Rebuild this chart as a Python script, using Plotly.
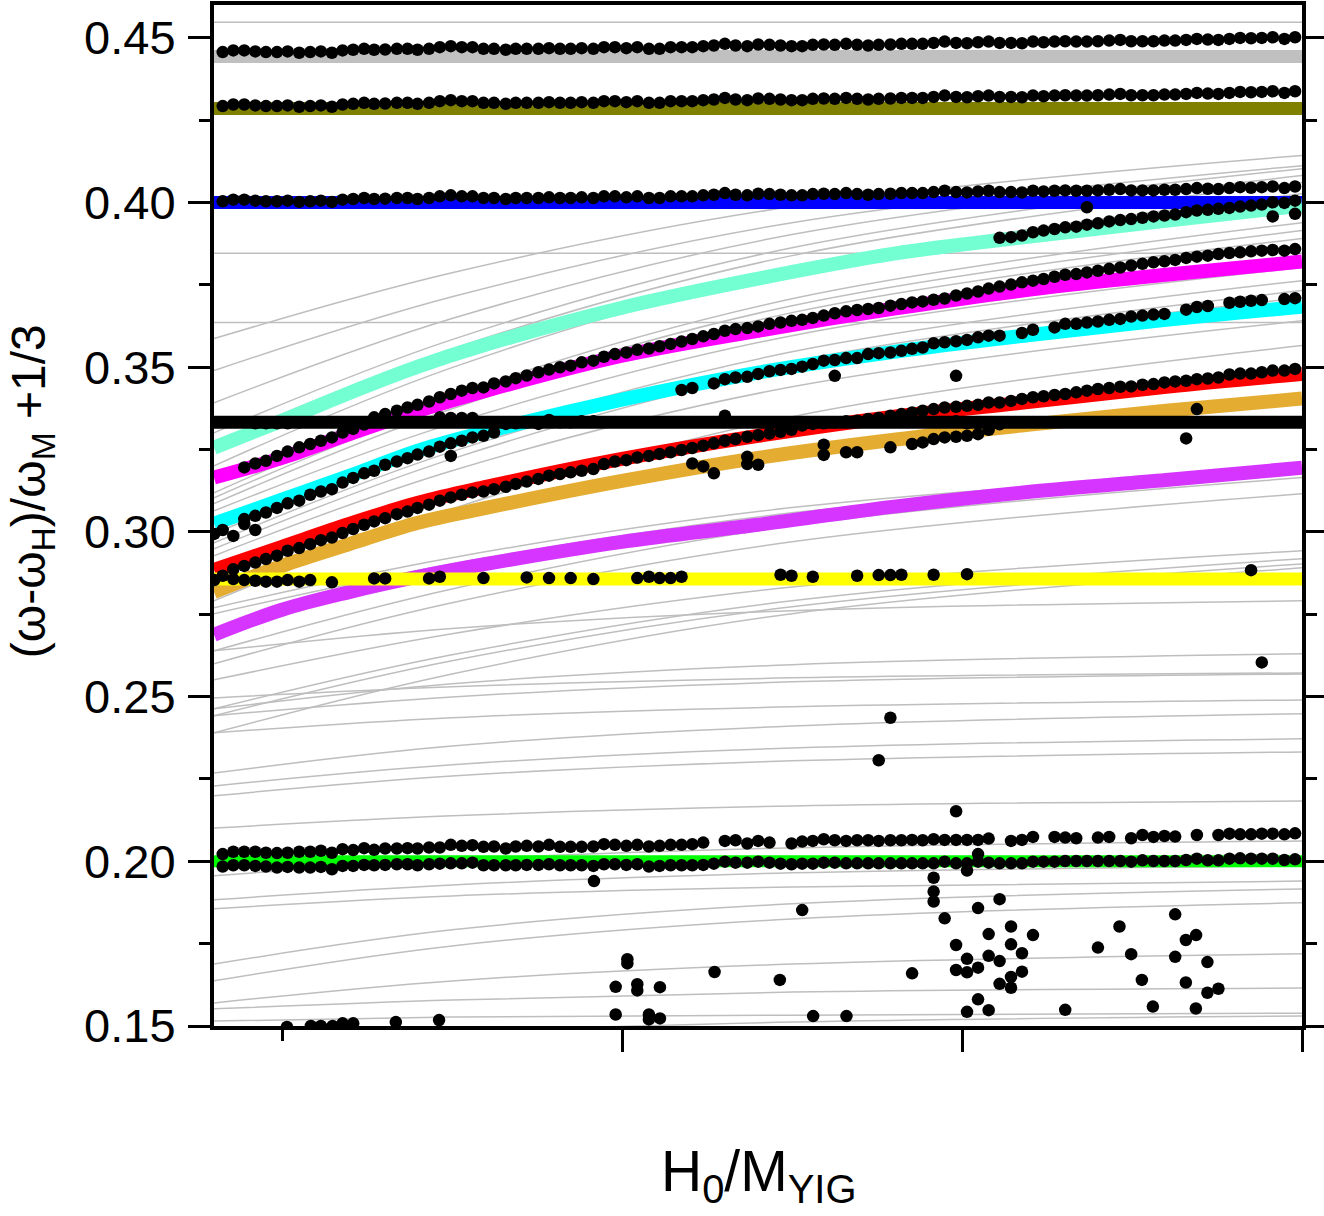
import plotly.graph_objects as go

# ---------------- axis extents / ticks ----------------
X_MIN, X_MAX = 0.4, 2.0
Y_MIN, Y_MAX = 0.15, 0.46
X_MAJOR = [1.0, 1.5, 2.0]
X_MINOR = [0.5]
Y_MAJOR = [0.15, 0.20, 0.25, 0.30, 0.35, 0.40, 0.45]
Y_LABELS = ["0.15", "0.20", "0.25", "0.30", "0.35", "0.40", "0.45"]
Y_MINOR = [0.175, 0.225, 0.275, 0.325, 0.375, 0.425]

# ---------------- constant (sphere) modes ----------------
FLAT_X = [X_MIN, X_MAX]
BAND_GRAY = 0.4444
BAND_OLIVE = 0.4286
BAND_BLUE = 0.4000
BAND_BLACK = 0.3333
BAND_YELLOW = 0.2857
BAND_GREEN = 0.2000
THIN_FLAT = [0.4548, 0.3846, 0.3636]

# ---------------- curved colored modes ----------------
CURVE_X = [0.4, 0.5, 0.6, 0.7, 0.8, 1.0, 1.2, 1.4, 1.6, 1.8, 2.0]
AQUA = [0.3256, 0.3338, 0.3423, 0.3502, 0.3569, 0.3681, 0.3769, 0.3845, 0.3897, 0.3945, 0.3991]
MAGENTA = [0.3165, 0.3225, 0.3298, 0.3368, 0.3429, 0.3535, 0.3611, 0.3678, 0.3736, 0.3781, 0.3821]
CYAN = [0.3025, 0.3098, 0.3171, 0.3247, 0.3304, 0.3402, 0.3484, 0.3547, 0.3598, 0.3644, 0.3684]
RED = [0.2885, 0.2955, 0.3025, 0.3089, 0.3137, 0.3222, 0.3292, 0.3350, 0.3395, 0.3441, 0.3480]
ORANGE = [0.2818, 0.2897, 0.2964, 0.3028, 0.3073, 0.3155, 0.3225, 0.3280, 0.3326, 0.3368, 0.3405]
PURPLE = [0.2688, 0.2764, 0.2818, 0.2864, 0.2903, 0.2970, 0.3022, 0.3077, 0.3122, 0.3158, 0.3195]

# ---------------- thin gray calculated modes ----------------
GRAY_X = [0.4, 0.75, 1.25, 2.0]
GRAY_CURVES = [
    [0.3587, 0.3787, 0.3988, 0.4143],
    [0.3490, 0.3714, 0.3939, 0.4112],
    [0.3392, 0.3648, 0.3903, 0.4103],
    [0.3301, 0.3584, 0.3863, 0.4082],
    [0.3271, 0.3556, 0.3839, 0.4061],
    [0.3201, 0.3499, 0.3796, 0.4027],
    [0.3119, 0.3414, 0.3708, 0.3939],
    [0.3104, 0.3395, 0.3687, 0.3915],
    [0.3086, 0.3374, 0.3666, 0.3891],
    [0.3064, 0.3329, 0.3596, 0.3803],
    [0.2995, 0.3271, 0.3547, 0.3763],
    [0.2967, 0.3244, 0.3517, 0.3733],
    [0.2949, 0.3222, 0.3499, 0.3711],
    [0.2928, 0.3186, 0.3441, 0.3641],
    [0.2791, 0.3070, 0.3350, 0.3566],
    [0.2770, 0.2922, 0.3074, 0.3192],
    [0.2752, 0.2903, 0.3058, 0.3177],
    [0.2639, 0.2827, 0.3019, 0.3165],
    [0.2600, 0.2785, 0.2970, 0.3116],
    [0.2551, 0.2691, 0.2833, 0.2943],
    [0.2463, 0.2627, 0.2791, 0.2919],
    [0.2442, 0.2609, 0.2773, 0.2903],
    [0.2390, 0.2569, 0.2752, 0.2891],
    [0.2639, 0.2707, 0.2761, 0.2791],
    [0.2463, 0.2539, 0.2597, 0.2630],
    [0.2496, 0.2530, 0.2557, 0.2572],
    [0.2442, 0.2499, 0.2545, 0.2569],
    [0.2390, 0.2436, 0.2469, 0.2490],
    [0.2268, 0.2350, 0.2411, 0.2448],
    [0.2229, 0.2293, 0.2344, 0.2372],
    [0.2199, 0.2259, 0.2305, 0.2332],
    [0.2101, 0.2138, 0.2168, 0.2183],
    [0.1956, 0.2004, 0.2041, 0.2062],
    [0.1883, 0.1928, 0.1965, 0.1986],
    [0.1856, 0.1895, 0.1922, 0.1940],
    [0.1688, 0.1792, 0.1871, 0.1916],
    [0.1637, 0.1743, 0.1825, 0.1874],
    [0.1570, 0.1637, 0.1688, 0.1719],
    [0.1552, 0.1579, 0.1603, 0.1615],
    [0.1515, 0.1527, 0.1533, 0.1539],
    [0.1439, 0.1480, 0.1512, 0.1530],
]

# ---------------- measured points (field scan) ----------------
X_SCAN = [
    0.4128, 0.4284, 0.4445, 0.4607, 0.4764, 0.4926, 0.5083, 0.5253, 0.5415, 0.5572,
    0.5734, 0.5891, 0.6047, 0.6208, 0.6355, 0.6517, 0.6689, 0.6846, 0.6993, 0.7163,
    0.7321, 0.7482, 0.7644, 0.7801, 0.7963, 0.8118, 0.8290, 0.8437, 0.8599, 0.8771,
    0.8927, 0.9088, 0.9245, 0.9407, 0.9579,
    0.9735, 0.9896, 1.0064, 1.0225, 1.0396, 1.0553, 1.0715, 1.0876, 1.1034, 1.1195,
    1.1351, 1.1513, 1.1670, 1.1842, 1.2003, 1.2169, 1.2331, 1.2493, 1.2650, 1.2806,
    1.2967, 1.3129, 1.3296, 1.3458, 1.3620, 1.3775, 1.3947, 1.4109, 1.4266, 1.4422,
    1.4583, 1.4745, 1.4913, 1.5074, 1.5236, 1.5392,
    1.5553, 1.5721, 1.5882, 1.6044, 1.6200, 1.6361, 1.6518, 1.6680, 1.6837, 1.6999,
    1.7165, 1.7327, 1.7488, 1.7654, 1.7816, 1.7977, 1.8135, 1.8296, 1.8454, 1.8615,
    1.8771, 1.8933, 1.9090, 1.9251, 1.9409, 1.9570, 1.9741, 1.9898,
]

ROW_TOP = [
    0.4457, 0.4462, 0.4462, 0.4459, 0.4457, 0.4457, 0.4459, 0.4455, 0.4457, 0.4459,
    0.4455, 0.4462, 0.4464, 0.4467, 0.4464, 0.4465, 0.4467, 0.4467, 0.4464, 0.4467,
    0.4472, 0.4475, 0.4472, 0.4472, 0.4467, 0.4467, 0.4464, 0.4467, 0.4467, 0.4467,
    0.4469, 0.4467, 0.4467, 0.4469, 0.4467,
    0.4472, 0.4472, 0.4469, 0.4472, 0.4467, 0.4467, 0.4472, 0.4472, 0.4472, 0.4475,
    0.4477, 0.4482, 0.4477, 0.4475, 0.4480, 0.4479, 0.4477, 0.4475, 0.4475, 0.4479,
    0.4480, 0.4479, 0.4482, 0.4479, 0.4477, 0.4479, 0.4480, 0.4482, 0.4482, 0.4482,
    0.4485, 0.4489, 0.4485, 0.4484, 0.4487, 0.4489,
    0.4485, 0.4485, 0.4484, 0.4489, 0.4487, 0.4489, 0.4490, 0.4489, 0.4489, 0.4490,
    0.4492, 0.4494, 0.4490, 0.4490, 0.4490, 0.4492, 0.4492, 0.4494, 0.4497, 0.4495,
    0.4494, 0.4497, 0.4500, 0.4499, 0.4500, 0.4502, 0.4497, 0.4502,
]
ROW_SECOND = [
    0.4293, 0.4298, 0.4298, 0.4295, 0.4293, 0.4293, 0.4295, 0.4291, 0.4293, 0.4295,
    0.4291, 0.4298, 0.4300, 0.4303, 0.4300, 0.4301, 0.4303, 0.4303, 0.4300, 0.4303,
    0.4308, 0.4311, 0.4308, 0.4308, 0.4303, 0.4303, 0.4300, 0.4303, 0.4303, 0.4303,
    0.4305, 0.4303, 0.4303, 0.4305, 0.4303,
    0.4308, 0.4308, 0.4305, 0.4308, 0.4303, 0.4303, 0.4308, 0.4308, 0.4308, 0.4311,
    0.4313, 0.4318, 0.4313, 0.4311, 0.4316, 0.4315, 0.4313, 0.4311, 0.4311, 0.4315,
    0.4316, 0.4315, 0.4318, 0.4315, 0.4313, 0.4315, 0.4316, 0.4318, 0.4318, 0.4318,
    0.4321, 0.4325, 0.4321, 0.4320, 0.4323, 0.4325,
    0.4321, 0.4321, 0.4320, 0.4325, 0.4323, 0.4325, 0.4326, 0.4325, 0.4325, 0.4326,
    0.4328, 0.4330, 0.4326, 0.4326, 0.4326, 0.4328, 0.4328, 0.4330, 0.4333, 0.4331,
    0.4330, 0.4333, 0.4336, 0.4335, 0.4336, 0.4338, 0.4333, 0.4338,
]
ROW_THIRD = [
    0.4004, 0.4009, 0.4009, 0.4006, 0.4004, 0.4004, 0.4006, 0.4002, 0.4004, 0.4006,
    0.4002, 0.4009, 0.4011, 0.4014, 0.4011, 0.4012, 0.4014, 0.4014, 0.4011, 0.4014,
    0.4019, 0.4022, 0.4019, 0.4019, 0.4014, 0.4014, 0.4011, 0.4014, 0.4014, 0.4014,
    0.4016, 0.4014, 0.4014, 0.4016, 0.4014,
    0.4019, 0.4019, 0.4016, 0.4019, 0.4014, 0.4014, 0.4019, 0.4019, 0.4019, 0.4022,
    0.4024, 0.4029, 0.4024, 0.4022, 0.4027, 0.4026, 0.4024, 0.4022, 0.4022, 0.4026,
    0.4027, 0.4026, 0.4029, 0.4026, 0.4024, 0.4026, 0.4027, 0.4029, 0.4029, 0.4029,
    0.4032, 0.4036, 0.4032, 0.4031, 0.4034, 0.4036,
    0.4032, 0.4032, 0.4031, 0.4036, 0.4034, 0.4036, 0.4037, 0.4036, 0.4036, 0.4037,
    0.4039, 0.4041, 0.4037, 0.4037, 0.4037, 0.4039, 0.4039, 0.4041, 0.4044, 0.4042,
    0.4041, 0.4044, 0.4047, 0.4045, 0.4047, 0.4049, 0.4044, 0.4049,
]
ROW_GREEN_LOW = [
    0.1984, 0.1988, 0.1988, 0.1986, 0.1984, 0.1981, 0.1983, 0.1981, 0.1981, 0.1983,
    0.1976, 0.1986, 0.1986, 0.1989, 0.1988, 0.1989, 0.1991, 0.1991, 0.1988, 0.1991,
    0.1993, 0.1994, 0.1994, 0.1996, 0.1988, 0.1988, 0.1988, 0.1988, 0.1989, 0.1989,
    0.1991, 0.1988, 0.1988, 0.1988, 0.1986,
    0.1991, 0.1991, 0.1989, 0.1991, 0.1984, 0.1986, 0.1988, 0.1988, 0.1988, 0.1989,
    0.1993, 0.1999, 0.1996, 0.1996, 0.1999, 0.1996, 0.1993, 0.1991, 0.1993, 0.1993,
    0.1996, 0.1996, 0.1994, 0.1994, 0.1994, 0.1994, 0.1994, 0.1994, 0.1994, 0.1994,
    0.1994, 0.1999, 0.1994, 0.1994, 0.1999, 0.1996,
    0.1994, 0.1994, 0.1994, 0.1999, 0.1999, 0.1999, 0.2001, 0.2001, 0.2001, 0.2001,
    0.2001, 0.2001, 0.1999, 0.2003, 0.2001, 0.2001, 0.2001, 0.2004, 0.2008, 0.2003,
    0.2003, 0.2008, 0.2009, 0.2008, 0.2008, 0.2008, 0.2004, 0.2006,
]
GREEN_UP_X = [
    0.4128, 0.4284, 0.4445, 0.4607, 0.4764, 0.4926, 0.5083, 0.5253, 0.5415, 0.5572,
    0.5734, 0.5891, 0.6047, 0.6208, 0.6355, 0.6517, 0.6689, 0.6846, 0.6993, 0.7163,
    0.7321, 0.7482, 0.7644, 0.7801, 0.7963, 0.8118, 0.8290, 0.8437, 0.8599, 0.8771,
    0.8927, 0.9088, 0.9245, 0.9407, 0.9579,
    0.9735, 0.9896, 1.0064, 1.0225, 1.0396, 1.0553, 1.0715, 1.0876, 1.1034, 1.1195,
    1.1513, 1.1670, 1.1842, 1.2003, 1.2169,
    1.2493, 1.2650, 1.2806, 1.2967, 1.3129, 1.3296, 1.3458, 1.3620, 1.3775, 1.3947,
    1.4109, 1.4266, 1.4422, 1.4583, 1.4745, 1.4913, 1.5074, 1.5236, 1.5392,
    1.5721, 1.5882, 1.6044, 1.6361, 1.6518, 1.6680, 1.6999, 1.7165, 1.7488, 1.7654,
    1.7816, 1.7977, 1.8135, 1.8454, 1.8771, 1.8933, 1.9090, 1.9251, 1.9409, 1.9570,
    1.9741, 1.9898,
]
GREEN_UP_Y = [
    0.2022, 0.2029, 0.2029, 0.2029, 0.2026, 0.2025, 0.2026, 0.2029, 0.2029, 0.2032,
    0.2026, 0.2037, 0.2034, 0.2040, 0.2035, 0.2039, 0.2039, 0.2040, 0.2039, 0.2042,
    0.2042, 0.2050, 0.2047, 0.2049, 0.2044, 0.2045, 0.2039, 0.2045, 0.2047, 0.2045,
    0.2050, 0.2044, 0.2044, 0.2044, 0.2045,
    0.2052, 0.2050, 0.2047, 0.2050, 0.2045, 0.2047, 0.2050, 0.2050, 0.2052, 0.2057,
    0.2062, 0.2064, 0.2054, 0.2062, 0.2057,
    0.2054, 0.2060, 0.2062, 0.2067, 0.2064, 0.2062, 0.2064, 0.2064, 0.2062, 0.2064,
    0.2064, 0.2065, 0.2064, 0.2067, 0.2065, 0.2065, 0.2065, 0.2065, 0.2069,
    0.2062, 0.2065, 0.2074, 0.2074, 0.2072, 0.2070, 0.2072, 0.2074, 0.2070, 0.2080,
    0.2074, 0.2077, 0.2075, 0.2080, 0.2080, 0.2084, 0.2082, 0.2082, 0.2084, 0.2084,
    0.2082, 0.2085,
]
AQUA_DOTS = [
    0.3893, 0.3895, 0.3900, 0.3910, 0.3915, 0.3920, 0.3925, 0.3927, 0.3933, 0.3937,
    0.3943, 0.3947, 0.3950, 0.3954, 0.3958, 0.3961, 0.3964, 0.3971, 0.3976, 0.3978,
    0.3981, 0.3984, 0.3988, 0.3991, 0.3994, 0.4001, 0.3999, 0.4006,
]
MAGENTA_DOTS = [
    0.3196, 0.3208, 0.3216, 0.3231, 0.3244, 0.3257, 0.3267, 0.3277, 0.3287, 0.3302,
    0.3313, 0.3326, 0.3348, 0.3358, 0.3368, 0.3378, 0.3386, 0.3396, 0.3409, 0.3419,
    0.3429, 0.3437, 0.3439, 0.3451, 0.3457, 0.3467, 0.3475, 0.3485, 0.3493, 0.3500,
    0.3505, 0.3515, 0.3520,
    0.3532, 0.3540, 0.3545, 0.3553, 0.3557, 0.3564, 0.3571, 0.3578, 0.3586, 0.3594,
    0.3601, 0.3611, 0.3616, 0.3619, 0.3624, 0.3632, 0.3636, 0.3641, 0.3644, 0.3650,
    0.3657, 0.3664, 0.3670, 0.3674, 0.3677, 0.3680, 0.3687, 0.3692, 0.3697, 0.3700,
    0.3705, 0.3709, 0.3718, 0.3724, 0.3730, 0.3739,
    0.3745, 0.3751, 0.3758, 0.3763, 0.3768, 0.3775, 0.3781, 0.3783, 0.3788, 0.3793,
    0.3799, 0.3803, 0.3809, 0.3814, 0.3819, 0.3822, 0.3826, 0.3832, 0.3836, 0.3839,
    0.3844, 0.3847, 0.3849, 0.3852, 0.3854, 0.3856, 0.3854, 0.3859,
]
RED_DOTS = [
    0.2887, 0.2897, 0.2907, 0.2918, 0.2928, 0.2943, 0.2951, 0.2963, 0.2975, 0.2983,
    0.2997, 0.3009, 0.3022, 0.3032, 0.3042, 0.3054, 0.3062, 0.3073, 0.3083, 0.3095,
    0.3105, 0.3113, 0.3120, 0.3123, 0.3130, 0.3137, 0.3146, 0.3153, 0.3161, 0.3171,
    0.3176, 0.3181, 0.3186, 0.3191,
    0.3206, 0.3214, 0.3218, 0.3226, 0.3231, 0.3237, 0.3242, 0.3249, 0.3255, 0.3262,
    0.3269, 0.3277, 0.3282, 0.3289, 0.3294, 0.3299, 0.3304, 0.3310, 0.3323, 0.3328,
    0.3330, 0.3333, 0.3336, 0.3338, 0.3343, 0.3346, 0.3353, 0.3358, 0.3363, 0.3368,
    0.3373, 0.3378, 0.3380, 0.3383, 0.3386, 0.3393,
    0.3393, 0.3398, 0.3404, 0.3409, 0.3412, 0.3416, 0.3419, 0.3424, 0.3429, 0.3434,
    0.3437, 0.3441, 0.3442, 0.3447, 0.3449, 0.3454, 0.3457, 0.3459, 0.3464, 0.3466,
    0.3469, 0.3478, 0.3481, 0.3481, 0.3485, 0.3490, 0.3490, 0.3495,
]
CYAN_DOT_X = [
    0.4004, 0.4128, 0.4284, 0.4445, 0.4445, 0.4607, 0.4607,
    0.4764, 0.4926, 0.5083, 0.5253, 0.5415, 0.5572, 0.5734, 0.5891, 0.6047, 0.6208,
    0.6355, 0.6517, 0.6689, 0.6846, 0.6993, 0.7163, 0.7321, 0.7482, 0.7644, 0.7801,
    0.7963, 0.8118, 0.7482,
    1.0876, 1.1034, 1.1351, 1.1513, 1.1670, 1.1842, 1.2003, 1.2169, 1.2331, 1.2493,
    1.2650, 1.2806, 1.2967, 1.3129, 1.3296, 1.3458, 1.3620, 1.3775, 1.3947, 1.4109,
    1.4266, 1.4422, 1.4583, 1.4745, 1.4913, 1.5074, 1.5236, 1.5392,
    1.5553, 1.5882, 1.6044, 1.6361, 1.6518, 1.6680, 1.6837, 1.6999, 1.7165, 1.7327,
    1.7488, 1.7654, 1.7816, 1.7977, 1.8296, 1.8454, 1.8615, 1.8933, 1.9090, 1.9251,
    1.9409, 1.9741, 1.9898,
    1.3129, 1.4913, 1.8454, 1.8296,
]
CYAN_DOT_Y = [
    0.2994, 0.3006, 0.2988, 0.3039, 0.3024, 0.3049, 0.3006,
    0.3059, 0.3073, 0.3087, 0.3095, 0.3113, 0.3123, 0.3130, 0.3150, 0.3164, 0.3178,
    0.3186, 0.3204, 0.3214, 0.3224, 0.3235, 0.3244, 0.3259, 0.3269, 0.3277, 0.3287,
    0.3292, 0.3302, 0.3231,
    0.3431, 0.3437, 0.3451, 0.3464, 0.3469, 0.3471, 0.3480, 0.3488, 0.3492, 0.3495,
    0.3502, 0.3510, 0.3520, 0.3522, 0.3528, 0.3528, 0.3540, 0.3543, 0.3545, 0.3550,
    0.3556, 0.3560, 0.3573, 0.3576, 0.3579, 0.3583, 0.3591, 0.3596,
    0.3596, 0.3604, 0.3614, 0.3621, 0.3632, 0.3632, 0.3636, 0.3639, 0.3644, 0.3647,
    0.3654, 0.3657, 0.3660, 0.3662, 0.3675, 0.3683, 0.3686, 0.3696, 0.3699, 0.3702,
    0.3704, 0.3707, 0.3710,
    0.3474, 0.3474, 0.3373, 0.3284,
]
AQUA_EXTRA_X = [1.6837, 1.9570, 1.9898]
AQUA_EXTRA_Y = [0.3986, 0.3958, 0.3966]
ORANGE_DOT_X = [1.1034, 1.1195, 1.1351, 1.1842, 1.1842, 1.2003, 1.2967, 1.2967, 1.3296,
                1.3458, 1.3947, 1.4266, 1.4422, 1.4583, 1.4745, 1.4913, 1.5074, 1.5236, 1.5392]
ORANGE_DOT_Y = [0.3208, 0.3199, 0.3178, 0.3228, 0.3206, 0.3204, 0.3265, 0.3234, 0.3242,
                0.3242, 0.3257, 0.3267, 0.3272, 0.3282, 0.3287, 0.3289, 0.3292, 0.3297, 0.3310]
YELLOW_DOT_X = [0.4004, 0.4128, 0.4284, 0.4445, 0.4607, 0.4764, 0.4926, 0.5083, 0.5253, 0.5415,
                0.5734, 0.6355, 0.6517, 0.7163, 0.7321, 0.7963, 0.8599, 0.8927, 0.9245, 0.9579,
                1.0225, 1.0396, 1.0553, 1.0715, 1.0876, 1.2331, 1.2493, 1.2806, 1.3458, 1.3775,
                1.3947, 1.4109, 1.4583, 1.5074, 1.9251]
YELLOW_DOT_Y = [0.2854, 0.2867, 0.2857, 0.2854, 0.2852, 0.2849, 0.2849, 0.2854, 0.2849, 0.2854,
                0.2847, 0.2859, 0.2859, 0.2859, 0.2864, 0.2860, 0.2862, 0.2860, 0.2860, 0.2857,
                0.2860, 0.2864, 0.2860, 0.2860, 0.2864, 0.2870, 0.2867, 0.2864, 0.2867, 0.2869,
                0.2869, 0.2870, 0.2870, 0.2872, 0.2884]
BLACK_DOT_X = [0.4607, 0.4764, 0.4926, 0.5083, 0.5253, 0.7321, 0.7482, 0.7644, 0.7801,
               0.8290, 0.8437, 0.8599, 0.8771, 0.8927, 0.9088, 0.9245, 0.9407, 0.9579,
               1.1513, 1.4913, 1.5074, 1.5236, 1.5392, 1.5553]
BLACK_DOT_Y = [0.3330, 0.3330, 0.3330, 0.3330, 0.3333, 0.3348, 0.3346, 0.3346, 0.3346,
               0.3328, 0.3330, 0.3333, 0.3328, 0.3340, 0.3333, 0.3333, 0.3336, 0.3336,
               0.3353, 0.3336, 0.3330, 0.3330, 0.3330, 0.3327]
SCATTER_X = [
    0.9588, 1.2650, 1.0079, 1.0079, 0.9907, 1.0225, 1.0225, 1.0558, 0.9907, 1.0396,
    1.0396, 1.0558, 1.1361, 1.2321, 1.2811, 1.3301, 1.3775, 1.3947, 1.4266, 1.4583,
    1.4583, 1.4583, 1.4745, 1.4913, 1.4913, 1.5074, 1.4913, 1.5074, 1.5236, 1.5236,
    1.5392, 1.5392, 1.5236, 1.5074, 1.5392, 1.5074, 1.5236, 1.5553, 1.5721, 1.6044,
    1.5553, 1.5721, 1.5882, 1.5721, 1.5882, 1.5553, 1.5721, 1.6518, 1.6999, 1.7316,
    1.7488, 1.7645, 1.7807, 1.8135, 1.8292, 1.8443, 1.8135, 1.8292, 1.8609, 1.8439,
    1.8609, 1.8771, 1.9409, 0.5073, 0.5425, 0.5572, 0.5744, 0.5891, 0.6047, 0.6674,
    0.7310,
]
SCATTER_Y = [
    0.1940, 0.1852, 0.1703, 0.1690, 0.1619, 0.1627, 0.1608, 0.1618, 0.1535, 0.1535,
    0.1520, 0.1523, 0.1664, 0.1640, 0.1530, 0.1530, 0.2307, 0.2436, 0.1660, 0.1950,
    0.1908, 0.1878, 0.1827, 0.2152, 0.1746, 0.1704, 0.1670, 0.1663, 0.1677, 0.1858,
    0.1779, 0.1713, 0.1581, 0.1543, 0.1548, 0.1972, 0.2022, 0.1885, 0.1802, 0.1776,
    0.1697, 0.1748, 0.1721, 0.1649, 0.1665, 0.1628, 0.1616, 0.1549, 0.1738, 0.1802,
    0.1718, 0.1640, 0.1559, 0.1839, 0.1761, 0.1776, 0.1710, 0.1632, 0.1694, 0.1553,
    0.1601, 0.1613, 0.2604, 0.1497, 0.1500, 0.1500, 0.1500, 0.1508, 0.1508, 0.1512,
    0.1518,
]

FONT = "Liberation Sans, Arial, sans-serif"
DOT = dict(color="black", size=12.5, line=dict(width=0))
THIN_GRAY = "#BEBEBE"

fig = go.Figure()


def add_line(x, y, color, width, spline=False):
    fig.add_trace(go.Scatter(
        x=x, y=y, mode="lines", hoverinfo="skip", showlegend=False,
        line=dict(color=color, width=width, shape="spline" if spline else "linear"),
    ))


def add_dots(x, y):
    fig.add_trace(go.Scatter(x=x, y=y, mode="markers", marker=DOT,
                             hoverinfo="skip", showlegend=False))


# thin gray calculated curves
for ys in GRAY_CURVES:
    add_line(GRAY_X, ys, THIN_GRAY, 1.5, spline=True)
for v in THIN_FLAT:
    add_line(FLAT_X, [v, v], THIN_GRAY, 1.5)

# thick colored modes
add_line(FLAT_X, [BAND_GRAY, BAND_GRAY], "#C0C0C0", 13)
add_line(FLAT_X, [BAND_OLIVE, BAND_OLIVE], "#808000", 13)
add_line(FLAT_X, [BAND_BLUE, BAND_BLUE], "#0000FF", 13)
add_line(CURVE_X, AQUA, "#74FFD2", 14, spline=True)
add_line(CURVE_X, MAGENTA, "#FF00FF", 14, spline=True)
add_line(CURVE_X, CYAN, "#00FFFF", 14, spline=True)
add_line(CURVE_X, RED, "#FF0000", 14, spline=True)
add_line(CURVE_X, ORANGE, "#E4AC30", 14, spline=True)
add_line(CURVE_X, PURPLE, "#D535FF", 14, spline=True)
add_line(FLAT_X, [BAND_YELLOW, BAND_YELLOW], "#FFFF00", 13)
add_line(FLAT_X, [BAND_GREEN, BAND_GREEN], "#00FF00", 12)
add_line(FLAT_X, [BAND_BLACK, BAND_BLACK], "#000000", 13)

# measured points
add_dots(X_SCAN, ROW_TOP)
add_dots(X_SCAN, ROW_SECOND)
add_dots(X_SCAN, ROW_THIRD)
add_dots(X_SCAN[71:], AQUA_DOTS)
add_dots(AQUA_EXTRA_X, AQUA_EXTRA_Y)
add_dots(X_SCAN[2:], MAGENTA_DOTS)
add_dots(CYAN_DOT_X, CYAN_DOT_Y)
add_dots(X_SCAN[1:], RED_DOTS)
add_dots(ORANGE_DOT_X, ORANGE_DOT_Y)
add_dots(BLACK_DOT_X, BLACK_DOT_Y)
add_dots(YELLOW_DOT_X, YELLOW_DOT_Y)
add_dots(X_SCAN, ROW_GREEN_LOW)
add_dots(GREEN_UP_X, GREEN_UP_Y)
add_dots(SCATTER_X, SCATTER_Y)

fig.update_layout(
    width=1324, height=1216,
    margin=dict(l=214, r=22, t=5, b=190),
    plot_bgcolor="white", paper_bgcolor="white",
    showlegend=False,
    font=dict(family=FONT, color="black"),
    xaxis=dict(
        range=[X_MIN, X_MAX], showgrid=False, zeroline=False, automargin=False,
        showline=True, linewidth=4, linecolor="black", mirror=True,
        ticks="outside", tickmode="array", tickvals=X_MAJOR, ticklen=22, tickwidth=3,
        tickcolor="black", showticklabels=False,
        minor=dict(tickmode="array", tickvals=X_MINOR, ticks="outside", ticklen=11,
                   tickwidth=3, tickcolor="black"),
    ),
    yaxis=dict(
        range=[Y_MIN, Y_MAX], showgrid=False, zeroline=False, automargin=False,
        showline=True, linewidth=4, linecolor="black", mirror="ticks",
        ticks="outside", tickmode="array", tickvals=Y_MAJOR, ticktext=Y_LABELS,
        ticklen=22, tickwidth=3, tickcolor="black",
        tickfont=dict(family=FONT, size=47, color="black"),
        ticklabelstandoff=3,
        minor=dict(tickmode="array", tickvals=Y_MINOR, ticks="outside", ticklen=11,
                   tickwidth=3, tickcolor="black"),
    ),
    annotations=[
        dict(text="(ω-ω<sub>H</sub>)/ω<sub>M</sub> +1/3", textangle=-90,
             xref="paper", yref="paper", x=-0.167, y=0.524,
             xanchor="center", yanchor="middle", showarrow=False,
             font=dict(family=FONT, size=48, color="black")),
        dict(text="H<sub>0</sub>/M<sub>YIG</sub>",
             xref="paper", yref="paper", x=0.5, y=-0.146,
             xanchor="center", yanchor="middle", showarrow=False,
             font=dict(family=FONT, size=57, color="black")),
    ],
)

fig.write_html("out.html", config={"displayModeBar": False},
               post_script="document.body.style.margin='0px';")
